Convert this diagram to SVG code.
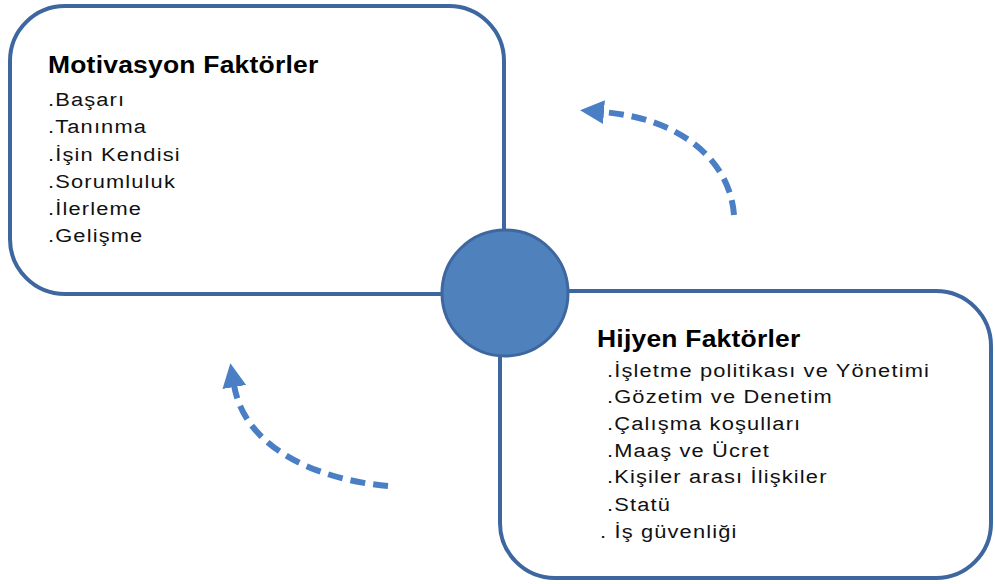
<svg xmlns="http://www.w3.org/2000/svg" width="995" height="584" viewBox="0 0 995 584">
<style>
.box{fill:#fff;stroke:#3e67a0;stroke-width:4}
.title{font-family:"Liberation Sans",Arial,sans-serif;font-weight:bold;font-size:23px;letter-spacing:0.2px;fill:#000}
.item{font-family:"Liberation Sans",Arial,sans-serif;font-size:19px;letter-spacing:1px;fill:#111}
.arr{fill:none;stroke:#4a7fc6;stroke-width:6;stroke-dasharray:15 8}
</style>
<defs>
<marker id="ah" markerUnits="userSpaceOnUse" markerWidth="26" markerHeight="26" refX="2" refY="12" orient="auto" viewBox="0 0 26 24">
<path d="M0,0 L24,12 L0,24 Z" fill="#4a7fc6"/>
</marker>
</defs>
<rect width="995" height="584" fill="#fff"/>
<g id="motivasyon">
<rect class="box" x="10" y="6" width="494" height="288" rx="55" ry="55"/>
<g transform="translate(48,0) scale(1.15,1)">
<text class="title" x="0" y="73">Motivasyon Faktörler</text>
<text class="item" x="0" y="106">.Başarı</text>
<text class="item" x="0" y="133">.Tanınma</text>
<text class="item" x="0" y="161">.İşin Kendisi</text>
<text class="item" x="0" y="188">.Sorumluluk</text>
<text class="item" x="0" y="215">.İlerleme</text>
<text class="item" x="0" y="242">.Gelişme</text>
</g>
</g>
<g id="hijyen">
<rect class="box" x="500" y="291" width="491" height="287" rx="55" ry="55"/>
<g transform="translate(597,0) scale(1.15,1)">
<text class="title" x="0" y="347">Hijyen Faktörler</text>
<text class="item" x="8.7" y="377">.İşletme politikası ve Yönetimi</text>
<text class="item" x="8.7" y="403">.Gözetim ve Denetim</text>
<text class="item" x="8.7" y="430">.Çalışma koşulları</text>
<text class="item" x="8.7" y="457">.Maaş ve Ücret</text>
<text class="item" x="8.7" y="483">.Kişiler arası İlişkiler</text>
<text class="item" x="8.7" y="511">.Statü</text>
<text class="item" x="2.6" y="538">. İş güvenliği</text>
</g>
</g>
<g id="center">
<circle cx="505" cy="293" r="63" fill="#4f81bd" stroke="#3e67a0" stroke-width="3"/>
</g>
<g id="connectors">
<path class="arr" d="M734,215 C730,160 680,118 602,112" marker-end="url(#ah)"/>
<path class="arr" d="M388,486 C320,480 245,450 234,385" marker-end="url(#ah)"/>
</g>
</svg>
